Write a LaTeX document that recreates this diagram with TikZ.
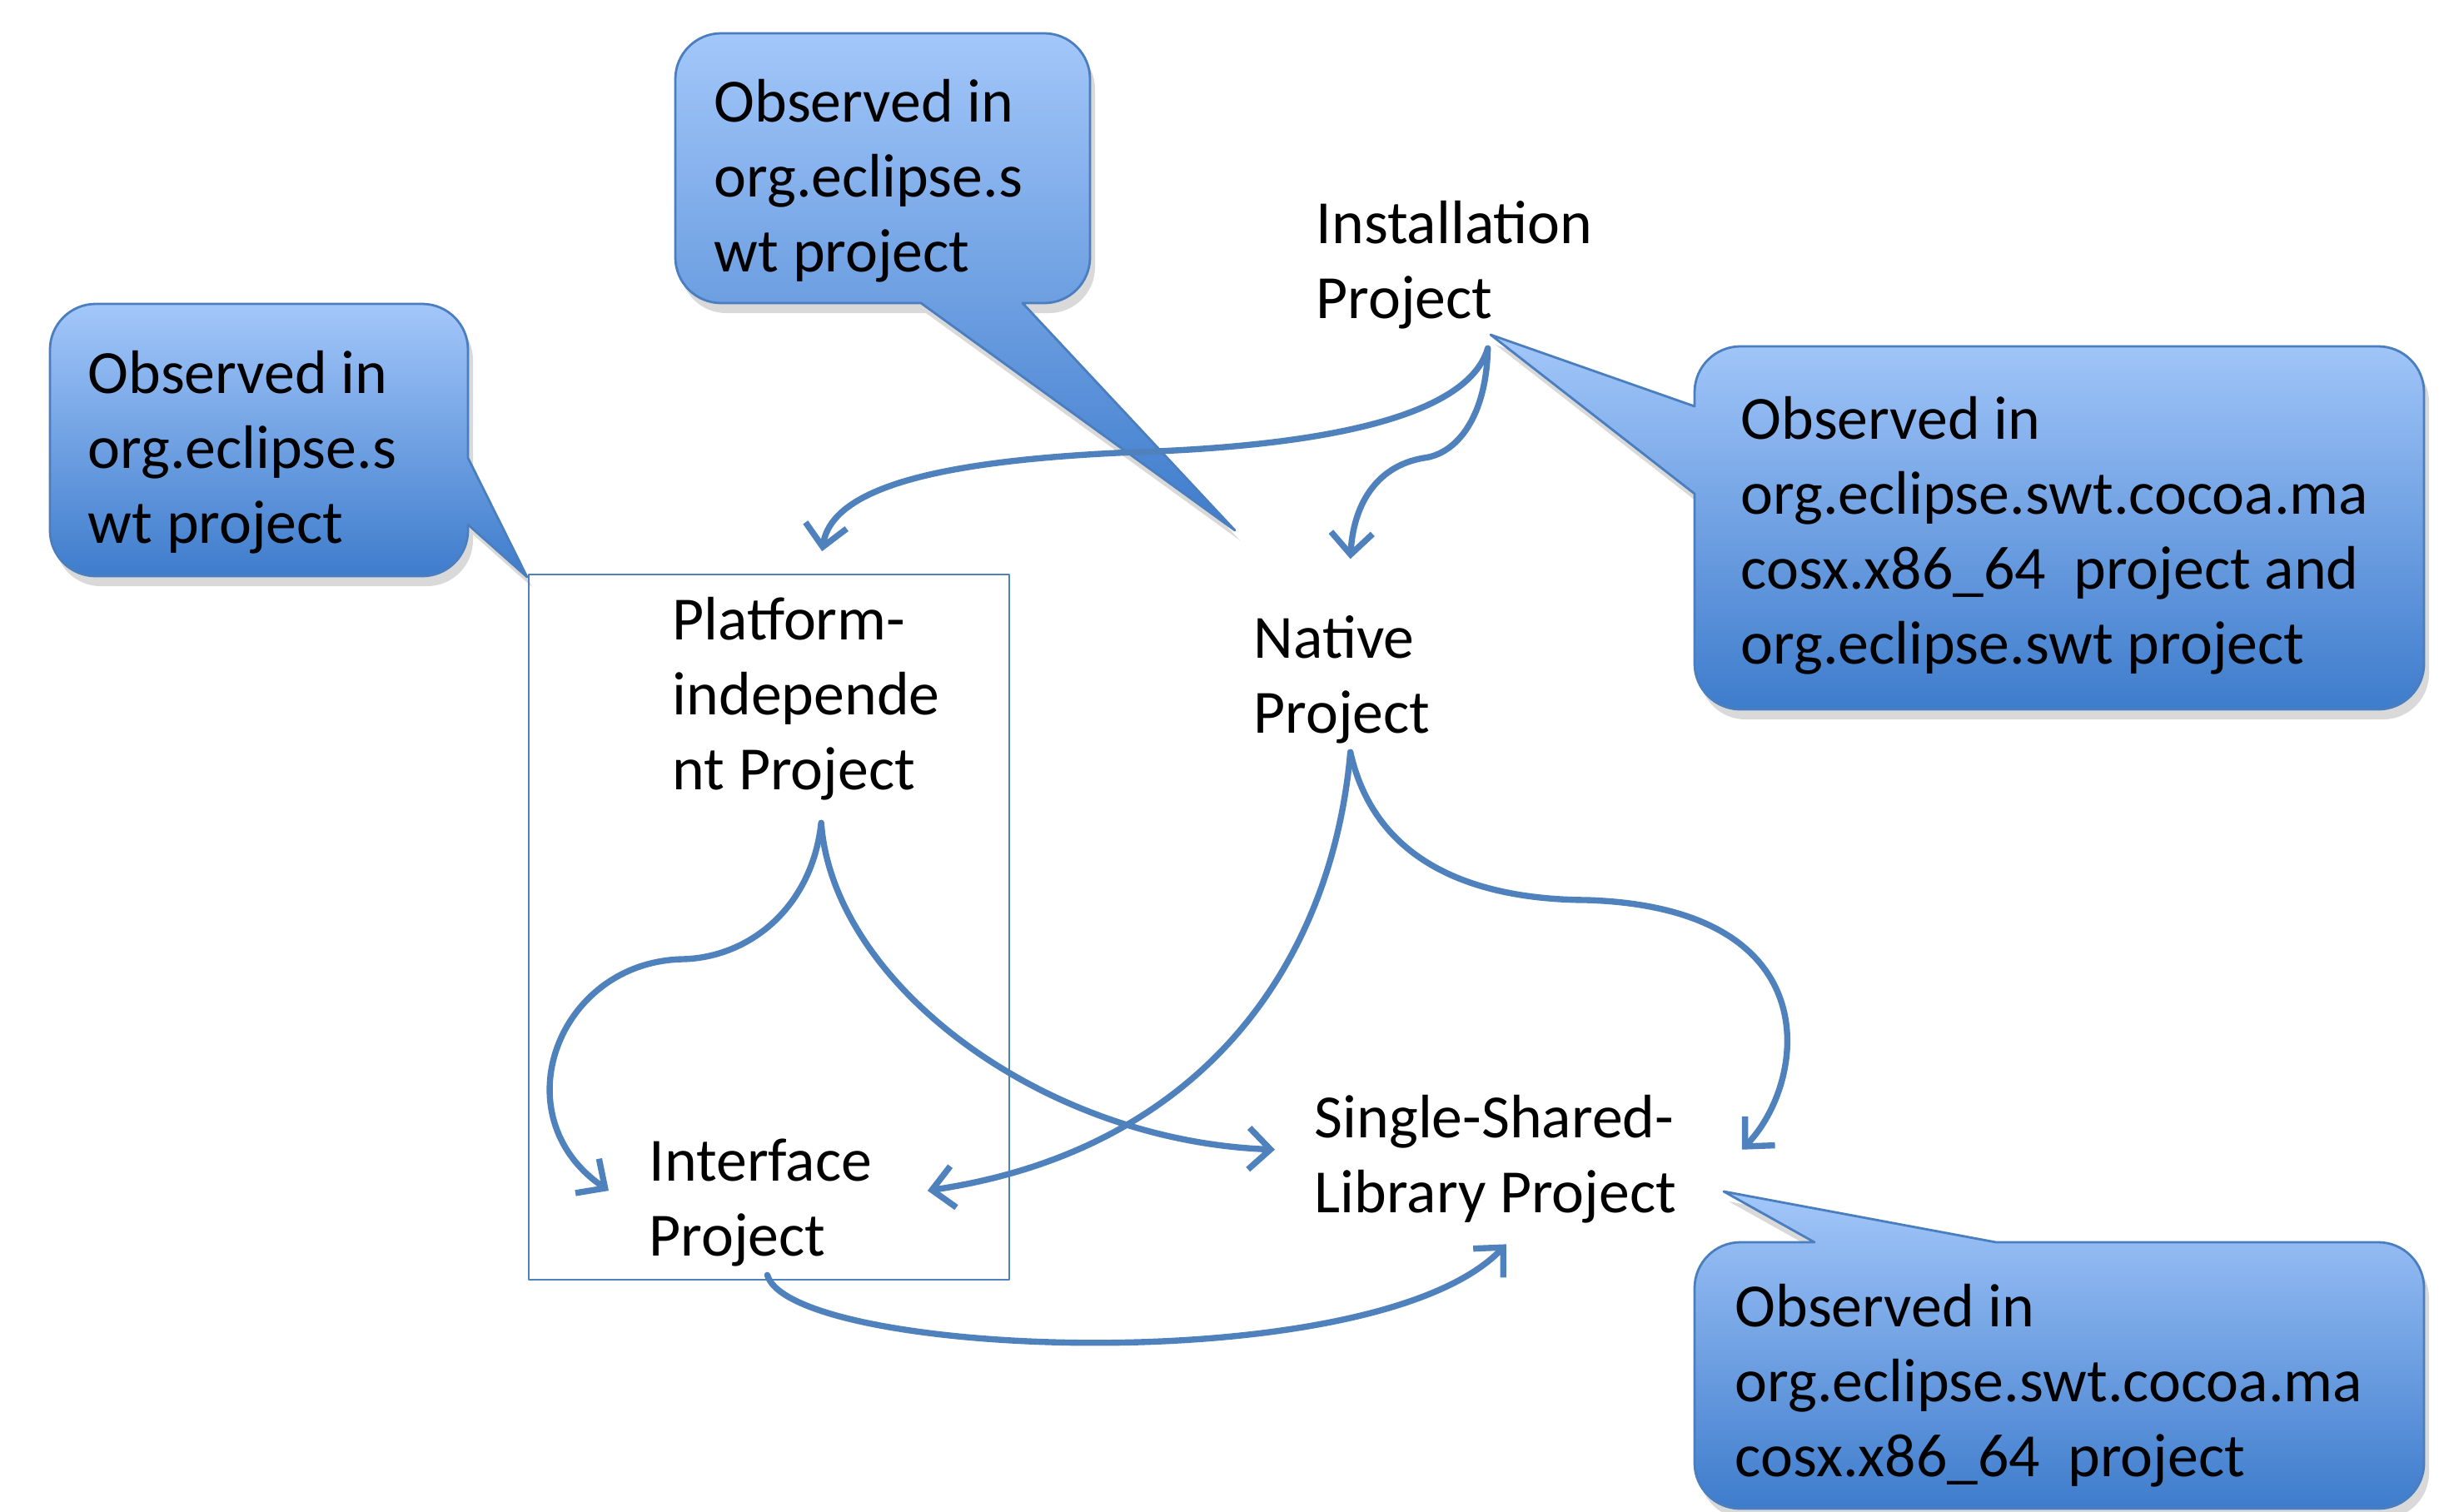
\documentclass[tikz,border=0pt]{standalone}
\usepackage{fontspec}
\setmainfont{Carlito}
\usetikzlibrary{arrows.meta,shadows}

\begin{document}
\begin{tikzpicture}[
    line cap=round,
    line join=round,
    every node/.style={font=\fontsize{21}{25.6}\selectfont},
    proj/.style={align=left, anchor=base west, inner sep=1mm},
    note/.style={align=left, anchor=base west, inner sep=0pt},
    dep/.style={draw=arrowblue, line width=2.1pt,
        -{Straight Barb[length=2.6mm,width=5mm]}},
    callout/.style={draw=callline, line width=0.8pt,
        top color=calltop, bottom color=callbot,
        drop shadow={opacity=0.3, shadow xshift=0.6mm, shadow yshift=-1.2mm}}
]

\definecolor{arrowblue}{RGB}{79,129,189}
\definecolor{calltop}{RGB}{163,199,250}
\definecolor{callbot}{RGB}{62,124,204}
\definecolor{callline}{RGB}{75,126,190}

\useasboundingbox (0,0) rectangle (29.35,-18.15);

% -----------------------------
% Callouts
% -----------------------------
\path[callout]
(8.66,-0.40) -- (12.54,-0.40) arc[start angle=90,end angle=0,radius=0.55]
-- (13.09,-3.09) arc[start angle=0,end angle=-90,radius=0.55]
-- (12.28,-3.64) -- (14.83,-6.37) -- (11.06,-3.64)
-- (8.66,-3.64) arc[start angle=270,end angle=180,radius=0.55]
-- (8.11,-0.95) arc[start angle=180,end angle=90,radius=0.55] -- cycle;

\path[callout]
(1.15,-3.65) -- (5.07,-3.65) arc[start angle=90,end angle=0,radius=0.55]
-- (5.62,-5.50) -- (6.33,-6.93) -- (5.62,-6.30)
-- (5.62,-6.37) arc[start angle=0,end angle=-90,radius=0.55]
-- (1.15,-6.92) arc[start angle=270,end angle=180,radius=0.55]
-- (0.60,-4.20) arc[start angle=180,end angle=90,radius=0.55] -- cycle;

\path[callout]
(20.90,-4.16) -- (28.56,-4.16) arc[start angle=90,end angle=0,radius=0.55]
-- (29.11,-7.97) arc[start angle=0,end angle=-90,radius=0.55]
-- (20.90,-8.52) arc[start angle=270,end angle=180,radius=0.55]
-- (20.35,-5.93) -- (17.90,-4.02) -- (20.35,-4.88)
-- (20.35,-4.71) arc[start angle=180,end angle=90,radius=0.55] -- cycle;

\path[callout]
(20.90,-14.92) -- (21.79,-14.92) -- (20.70,-14.31) -- (23.97,-14.92)
-- (28.56,-14.92) arc[start angle=90,end angle=0,radius=0.55]
-- (29.11,-17.57) arc[start angle=0,end angle=-90,radius=0.55]
-- (20.90,-18.12) arc[start angle=270,end angle=180,radius=0.55]
-- (20.35,-15.47) arc[start angle=180,end angle=90,radius=0.55] -- cycle;

\node[note] (obsA) at (8.57,-3.26) {Observed in\\org.eclipse.s\\wt project};
\node[note] (obsB) at (1.05,-6.52) {Observed in\\org.eclipse.s\\wt project};
\node[note] (obsC) at (20.90,-7.97)
{Observed in\\org.eclipse.swt.cocoa.ma\\cosx.x86\_64\ \ project and\\org.eclipse.swt project};
\node[note] (obsD) at (20.83,-17.73)
{Observed in\\org.eclipse.swt.cocoa.ma\\cosx.x86\_64\ \ project};

% -----------------------------
% Projects
% -----------------------------
\draw[arrowblue, line width=0.8pt] (6.35,-6.90) rectangle (12.12,-15.37);

\node[proj] (inst) at (15.70,-3.82) {Installation\\Project};
\node[proj] (nat) at (14.95,-8.80) {Native\\Project};
\node[proj] (plat) at (7.97,-9.48) {Platform-\\independe\\nt Project};
\node[proj] (intf) at (7.69,-15.08) {Interface\\Project};
\node[proj] (ssl) at (15.68,-14.56) {Single-Shared-\\Library Project};

% -----------------------------
% Dependencies
% -----------------------------
\draw[dep] ([xshift=4mm,yshift=-1.3mm]inst.south)
.. controls (17.60,-5.10) and (15.50,-5.35) .. (13.90,-5.42)
.. controls (11.50,-5.50) and (10.00,-5.80) ..
([xshift=1.9mm,yshift=4.4mm]plat.north);

\draw[dep] ([xshift=4mm,yshift=-1.3mm]inst.south)
.. controls (17.85,-5.00) and (17.50,-5.45) .. (17.10,-5.50)
.. controls (16.50,-5.60) and (16.25,-6.10) ..
([xshift=1mm,yshift=5.7mm]nat.north);

\draw[dep] ([xshift=1.8mm,yshift=-1.7mm]plat.south)
.. controls (9.75,-10.90) and (9.00,-11.50) .. (8.20,-11.52)
.. controls (6.70,-11.55) and (6.00,-13.40) ..
([xshift=-3.8mm,yshift=1.4mm]intf.west);

\draw[dep] ([xshift=1.8mm,yshift=-1.7mm]plat.south)
.. controls (10.00,-11.80) and (12.50,-13.70) ..
([xshift=-3.7mm,yshift=1.1mm]ssl.west);

\draw[dep] ([xshift=1mm]nat.south)
.. controls (16.00,-11.50) and (14.50,-13.80) ..
([xshift=5.6mm,yshift=1.4mm]intf.east);

\draw[dep] ([xshift=1mm]nat.south)
.. controls (16.50,-10.30) and (17.60,-10.80) .. (19.05,-10.81)
.. controls (22.00,-10.90) and (21.70,-13.00) ..
([xshift=6.8mm,yshift=1.1mm]ssl.east);

\draw[dep] ([xshift=0.8mm]intf.south)
.. controls (9.50,-16.30) and (16.50,-16.60) ..
([xshift=1.3mm,yshift=-1.5mm]ssl.south);

\end{tikzpicture}
\end{document}
